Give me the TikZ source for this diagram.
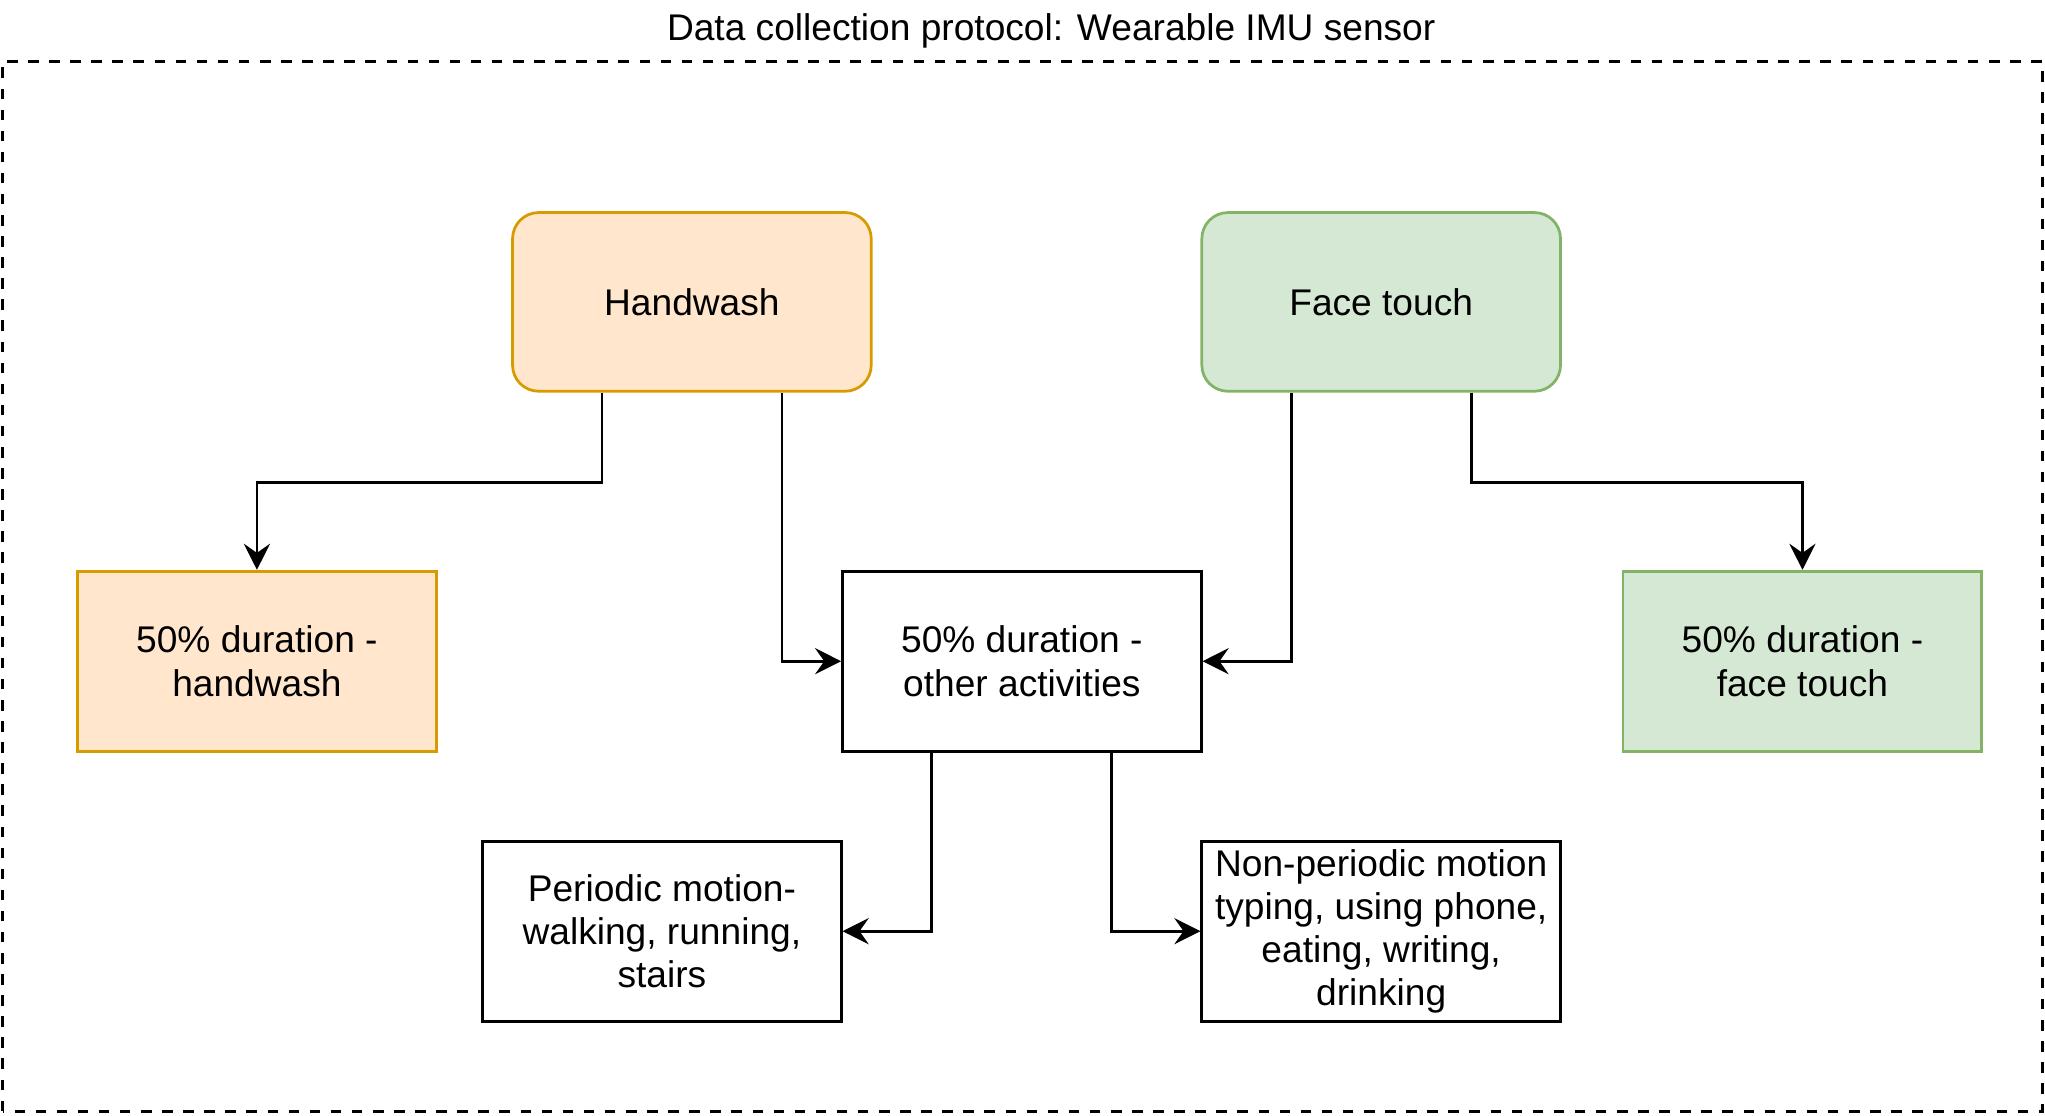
\documentclass[tikz,border=0pt]{standalone}
\usepackage{fontspec}
\setmainfont{Liberation Sans}
\usepackage{tikz}
\usetikzlibrary{arrows.meta}
\usepackage{color}
\definecolor{hwfill}{HTML}{FFE6CC}
\definecolor{hwline}{HTML}{D79B00}
\definecolor{ftfill}{HTML}{D5E8D4}
\definecolor{ftline}{HTML}{82B366}

\begin{document}
\begin{tikzpicture}[font=\fontsize{8.1}{9.4}\selectfont,
  box/.style={draw, line width=0.6pt, minimum width=2.75cm, minimum height=1.38cm, align=center, inner sep=1pt},
  hwbox/.style={box, draw=hwline, fill=hwfill},
  ftbox/.style={box, draw=ftline, fill=ftfill},
  arr/.style={-{Stealth[length=2mm,width=2mm,inset=0.7mm]}, line width=0.6pt}]
\useasboundingbox (0,0) rectangle (15.68,8.55);
\draw[dash pattern=on 2.3pt off 2.3pt, line width=0.6pt] (0.02,0.03) rectangle (15.66,8.08);
\node (title) at (8.06,8.31) {Data collection protocol: Wearable IMU sensor};
\node[hwbox, rounded corners=0.2cm, minimum height=1.37cm] (hw) at (5.305,6.235) {Handwash};
\node[ftbox, rounded corners=0.2cm, minimum height=1.37cm] (ft) at (10.59,6.235) {Face touch};
\node[hwbox] (hwd) at (1.97,3.48) {50\% duration -\\handwash};
\node[box] (oth) at (7.835,3.48) {50\% duration -\\other activities};
\node[ftbox] (ftd) at (13.82,3.48) {50\% duration -\\face touch};
\node[box] (per) at (5.075,1.41) {Periodic motion-\\walking, running,\\stairs};
\node[box] (nper) at (10.59,1.41) {Non-periodic motion\\typing, using phone,\\eating, writing,\\drinking};
\draw[arr] ([xshift=-6.9mm]hw.south) -- ++(0,-0.69) -| (hwd.north);
\draw[arr] ([xshift=6.9mm]hw.south) |- (oth.west);
\draw[arr] ([xshift=-6.9mm]ft.south) |- (oth.east);
\draw[arr] ([xshift=6.9mm]ft.south) -- ++(0,-0.69) -| (ftd.north);
\draw[arr] ([xshift=-6.9mm]oth.south) |- (per.east);
\draw[arr] ([xshift=6.9mm]oth.south) |- (nper.west);
\end{tikzpicture}
\end{document}
